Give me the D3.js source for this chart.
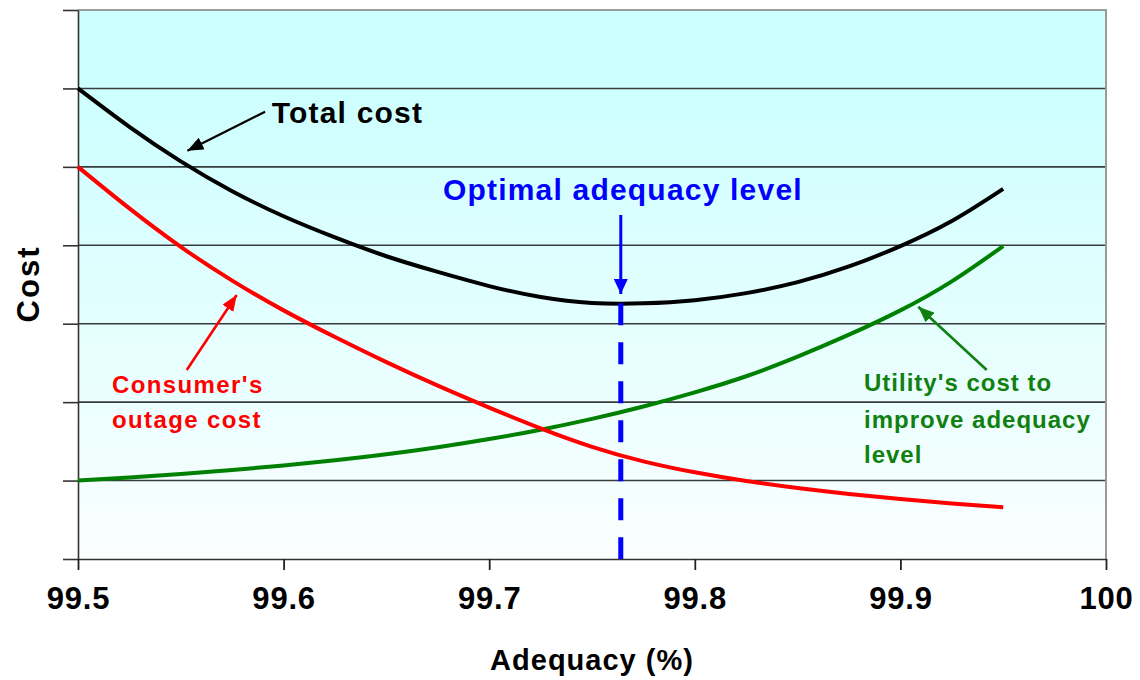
<!DOCTYPE html>
<html>
<head>
<meta charset="utf-8">
<script src="https://cdn.jsdelivr.net/npm/d3@7"></script>
<style>
  html, body { margin: 0; padding: 0; background: #ffffff; }
  svg { display: block; font-family: "Liberation Sans", Arial, sans-serif; }
</style>
</head>
<body>
<svg id="chart" width="1140" height="680"></svg>
<script>
// Adequacy levels (%) at which the cost curves are sampled
const adequacy = [99.5, 99.525, 99.55, 99.575, 99.6, 99.625, 99.65, 99.675, 99.7,
  99.725, 99.75, 99.775, 99.8, 99.825, 99.85, 99.875, 99.9, 99.925, 99.95];

// Consumer's outage cost (relative units)
const outageCost = [5.00, 4.47, 3.98, 3.55, 3.17, 2.83, 2.51, 2.21, 1.93,
  1.665, 1.43, 1.245, 1.105, 0.995, 0.905, 0.83, 0.765, 0.707, 0.66];

// Utility's cost to improve adequacy level (relative units)
const utilityCost = [1.00, 1.04, 1.085, 1.135, 1.192, 1.258, 1.335, 1.425, 1.529,
  1.649, 1.787, 1.945, 2.125, 2.33, 2.58, 2.86, 3.17, 3.54, 3.99];

// Total cost (relative units)
const totalCost = [6.00, 5.51, 5.07, 4.69, 4.37, 4.10, 3.86, 3.66, 3.48,
  3.34, 3.265, 3.26, 3.30, 3.39, 3.53, 3.73, 3.99, 4.31, 4.72];

// Optimal adequacy level and the minimum total cost there
const optimalLevel = 99.764;
const optimalCost = 3.26;

// Axis ticks
const xTicks = [99.5, 99.6, 99.7, 99.8, 99.9, 100];
const xTickLabels = ["99.5", "99.6", "99.7", "99.8", "99.9", "100"];
const yTicks = [0, 1, 2, 3, 4, 5, 6, 7];

const width = 1140, height = 680;
const margin = { top: 10, right: 34, bottom: 121, left: 78 };
const innerW = width - margin.left - margin.right;
const innerH = height - margin.top - margin.bottom;

const svg = d3.select("#chart");
const defs = svg.append("defs");

// Plot background: cyan fading to white toward the bottom
const grad = defs.append("linearGradient")
  .attr("id", "bg").attr("x1", 0).attr("y1", 0).attr("x2", 0).attr("y2", 1);
grad.append("stop").attr("offset", "0").attr("stop-color", "#ccffff");
grad.append("stop").attr("offset", "0.12").attr("stop-color", "#ccffff");
grad.append("stop").attr("offset", "1").attr("stop-color", "#fbfefe");

// Arrowhead markers
function arrowMarker(id, color, len, wid) {
  defs.append("marker")
    .attr("id", id)
    .attr("markerUnits", "userSpaceOnUse")
    .attr("viewBox", `0 ${-wid / 2} ${len} ${wid}`)
    .attr("refX", len).attr("refY", 0)
    .attr("markerWidth", len).attr("markerHeight", wid)
    .attr("orient", "auto")
    .append("path")
    .attr("d", `M0,${-wid / 2}L${len},0L0,${wid / 2}Z`)
    .attr("fill", color);
}
arrowMarker("ahBlack", "#000000", 16, 13);
arrowMarker("ahRed", "#ff0000", 16, 13);
arrowMarker("ahGreen", "#108010", 16, 13);
arrowMarker("ahBlue", "#0000ff", 15, 14);

const x = d3.scaleLinear().domain([99.5, 100]).range([0, innerW]);
const y = d3.scaleLinear().domain([0, 7]).range([innerH, 0]);

const g = svg.append("g").attr("transform", `translate(${margin.left},${margin.top})`);

g.append("rect")
  .attr("width", innerW).attr("height", innerH)
  .attr("fill", "url(#bg)");

// Horizontal gridlines
g.append("g").selectAll("line")
  .data(yTicks.filter(t => t > 0 && t < 7))
  .join("line")
  .attr("x1", 0).attr("x2", innerW)
  .attr("y1", d => y(d)).attr("y2", d => y(d))
  .attr("stroke", "#363c3c").attr("stroke-width", 1.6);

// Plot border on top and right
g.append("path")
  .attr("d", `M0,${y(7)}H${innerW}V${innerH}`)
  .attr("fill", "none").attr("stroke", "#9a9a9a").attr("stroke-width", 2);

// Y axis: ticks only, no labels
const yAxis = g.append("g")
  .call(d3.axisLeft(y).tickValues(yTicks).tickSize(15).tickSizeOuter(0).tickFormat(""));
yAxis.select(".domain").attr("stroke", "#333").attr("stroke-width", 1.6);
yAxis.selectAll(".tick line").attr("stroke", "#333").attr("stroke-width", 1.6);

// X axis
const xAxis = g.append("g")
  .attr("transform", `translate(0,${innerH})`)
  .call(d3.axisBottom(x).tickValues(xTicks).tickSize(11).tickSizeOuter(0)
    .tickFormat((d, i) => xTickLabels[i]));
xAxis.select(".domain").attr("stroke", "#333").attr("stroke-width", 1.6);
xAxis.selectAll(".tick line").attr("stroke", "#222").attr("stroke-width", 1.8);
xAxis.selectAll(".tick text")
  .attr("y", 50).attr("dy", 0)
  .attr("fill", "#000")
  .style("font-size", "31px").style("font-weight", "bold")
  .style("font-family", "'Liberation Sans', Arial, sans-serif")
  .style("letter-spacing", "0.8px");

// Cost curves
const line = d3.line()
  .x(d => x(d[0])).y(d => y(d[1]))
  .curve(d3.curveNatural);

const series = [
  { values: utilityCost, color: "#008000" },
  { values: outageCost, color: "#ff0000" },
  { values: totalCost, color: "#000000" }
];
g.append("g").selectAll("path")
  .data(series)
  .join("path")
  .attr("d", s => line(adequacy.map((a, i) => [a, s.values[i]])))
  .attr("fill", "none")
  .attr("stroke", s => s.color)
  .attr("stroke-width", 4)
  .attr("stroke-linejoin", "round");

// Optimal level marker: dashed drop line
g.append("line")
  .attr("x1", x(optimalLevel)).attr("x2", x(optimalLevel))
  .attr("y1", y(optimalCost)).attr("y2", y(0))
  .attr("stroke", "#0000ff").attr("stroke-width", 5)
  .attr("stroke-dasharray", "22,17");

// Annotations (positions in data units)
function arrow(x0, y0, x1, y1, color, marker, w) {
  g.append("line")
    .attr("x1", x(x0)).attr("y1", y(y0))
    .attr("x2", x(x1)).attr("y2", y(y1))
    .attr("stroke", color).attr("stroke-width", w)
    .attr("marker-end", `url(#${marker})`);
}
function label(lines, x0, baselines, color, size, spacing) {
  const t = g.append("text")
    .attr("fill", color)
    .style("font-size", size + "px")
    .style("font-weight", "bold")
    .style("letter-spacing", spacing + "px");
  lines.forEach((s, i) => {
    t.append("tspan").attr("x", x(x0)).attr("y", y(baselines[i])).text(s);
  });
}

arrow(99.5910, 5.703, 99.5532, 5.206, "#000000", "ahBlack", 2.2);
label(["Total cost"], 99.5942, [5.555], "#000000", 30, 1.2);

arrow(optimalLevel, 4.386, optimalLevel, 3.379, "#0000ff", "ahBlue", 3);
label(["Optimal adequacy level"], 99.6775, [4.577], "#0000ff", 30, 1.2);

arrow(99.5529, 2.410, 99.5772, 3.366, "#ff0000", "ahRed", 2.6);
label(["Consumer's", "outage cost"], 99.5165, [2.120, 1.666], "#ff0000", 24, 1.4);

arrow(99.9420, 2.410, 99.9087, 3.217, "#108010", "ahGreen", 2.6);
label(["Utility's cost to", "improve adequacy", "level"], 99.8823, [2.142, 1.674, 1.224], "#108010", 24, 1.0);

// Axis titles
svg.append("text")
  .attr("x", margin.left + x(99.75)).attr("y", 670)
  .attr("text-anchor", "middle")
  .attr("fill", "#000")
  .style("font-size", "29px").style("font-weight", "bold")
  .style("letter-spacing", "1px")
  .text("Adequacy (%)");

svg.append("text")
  .attr("transform", "translate(39,284) rotate(-90)")
  .attr("text-anchor", "middle")
  .attr("fill", "#000")
  .style("font-size", "31px").style("font-weight", "bold")
  .style("letter-spacing", "2px")
  .text("Cost");
</script>
</body>
</html>
